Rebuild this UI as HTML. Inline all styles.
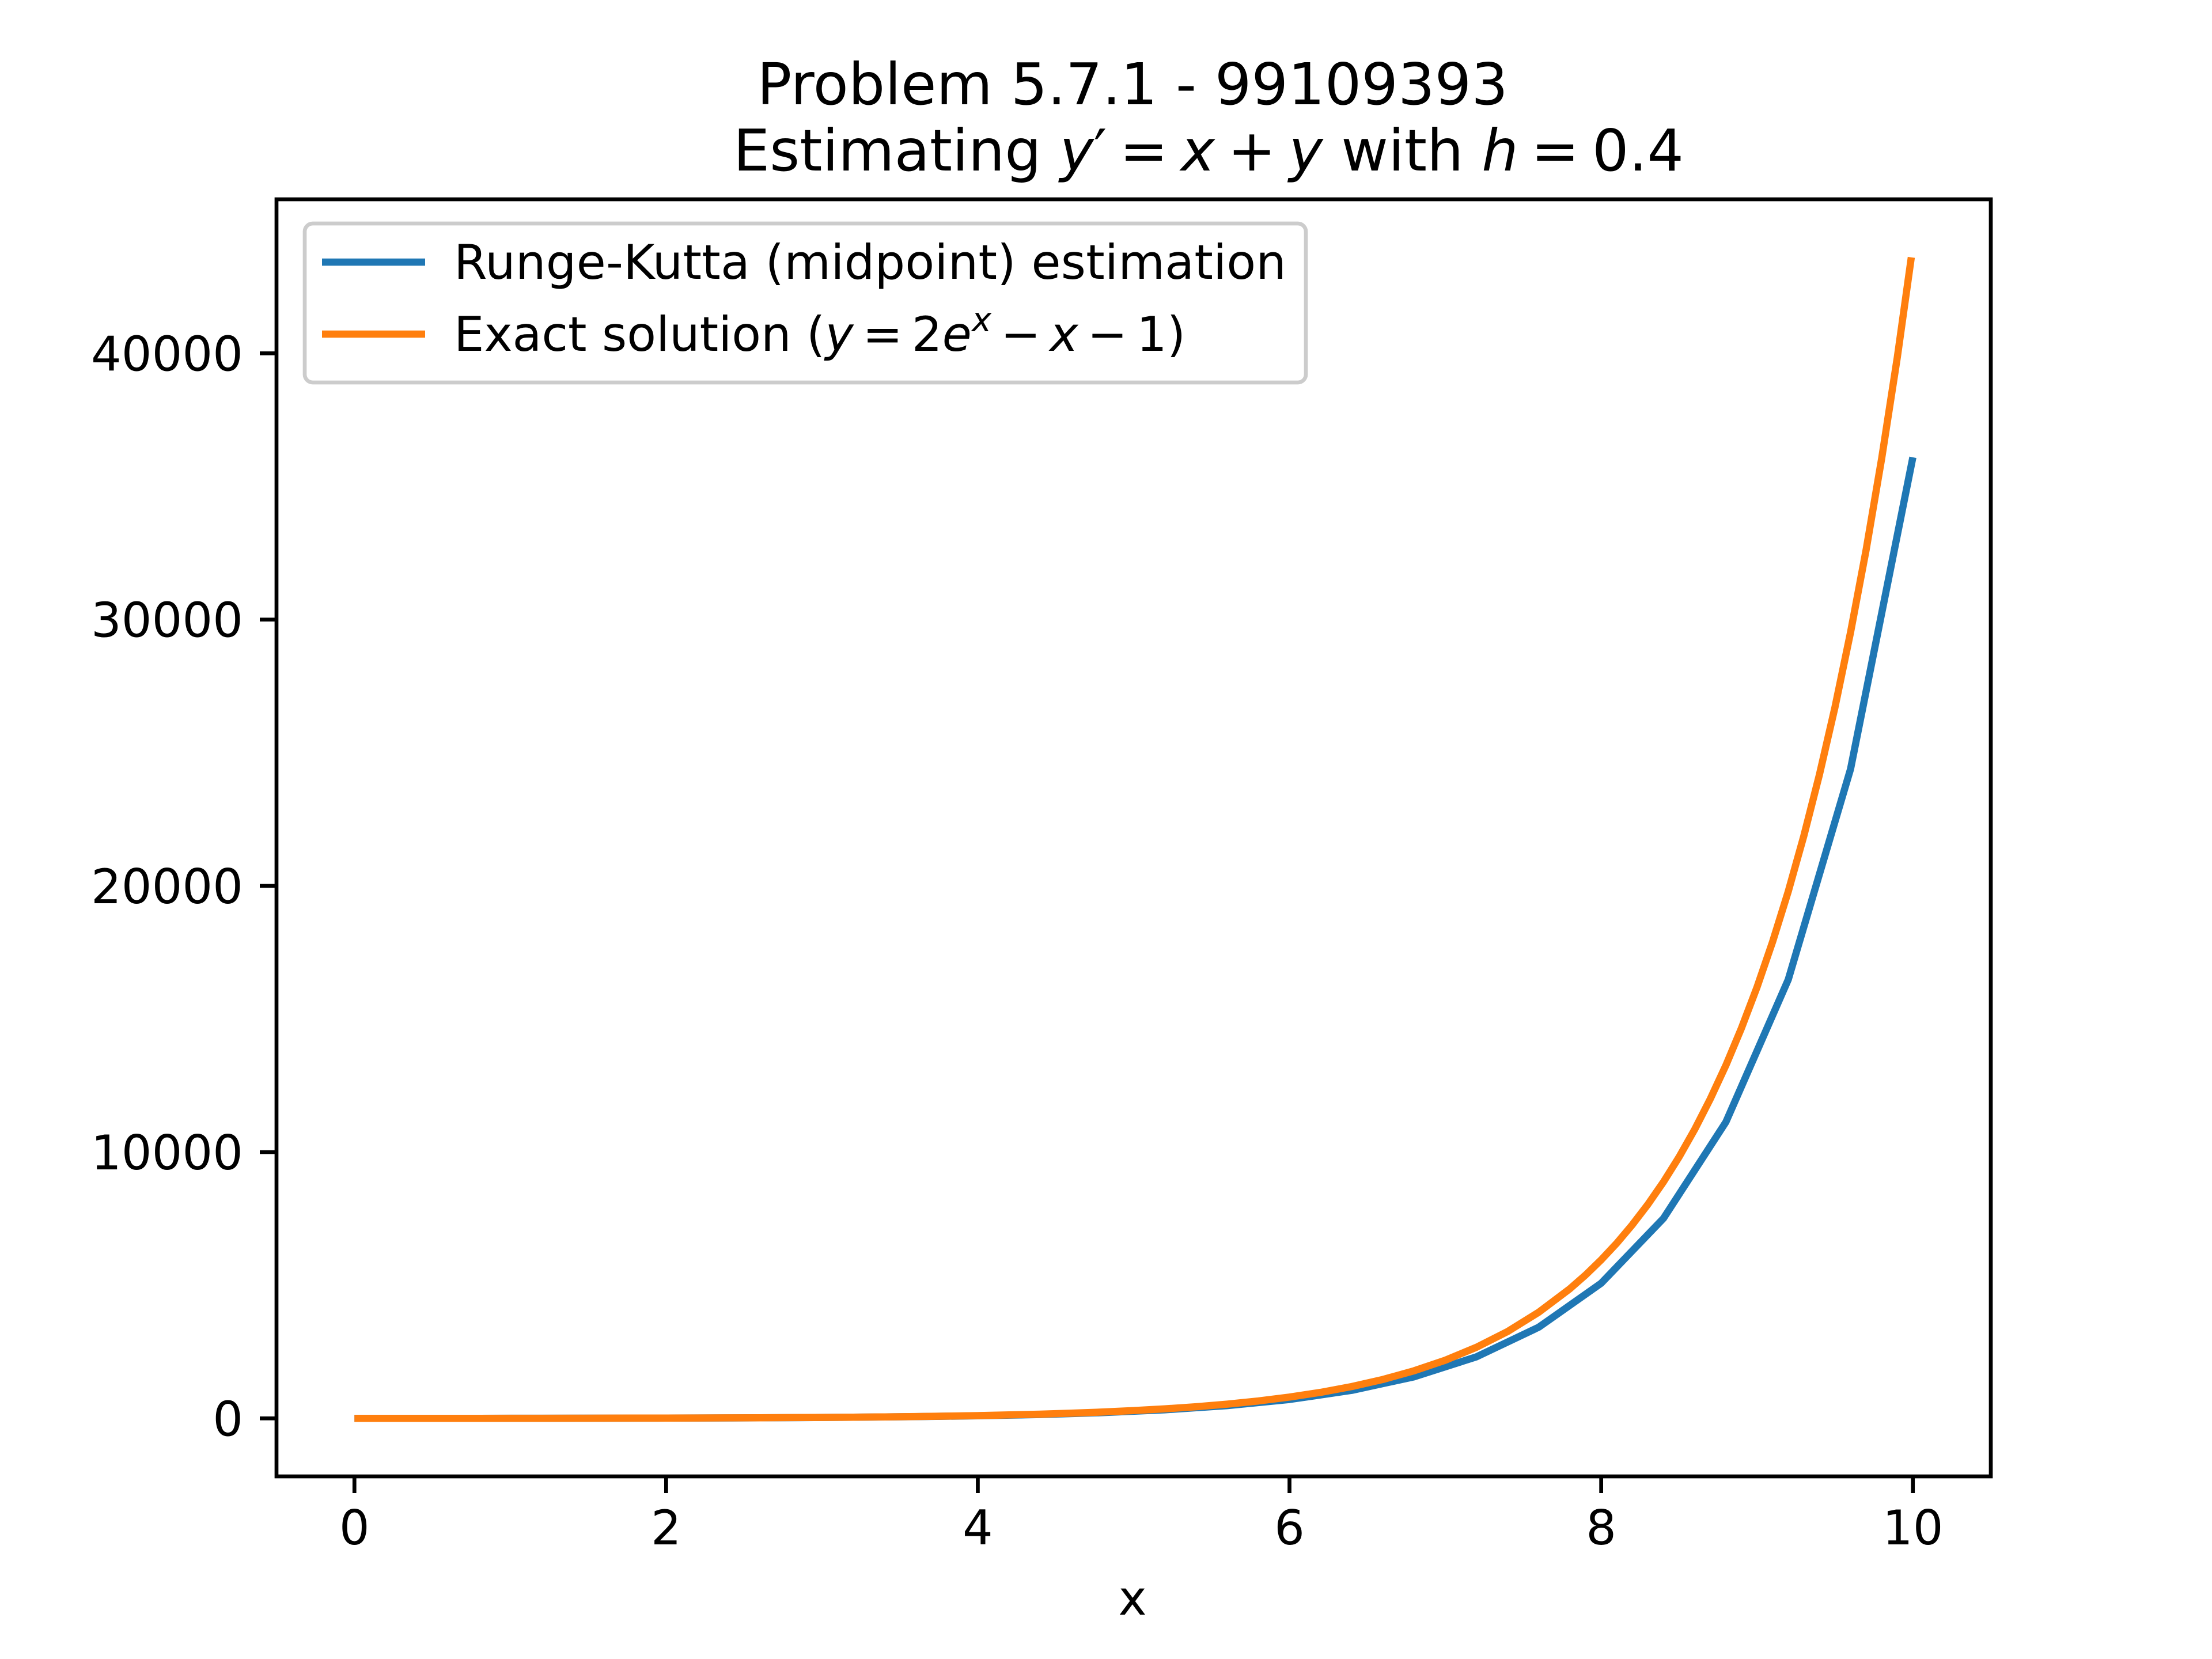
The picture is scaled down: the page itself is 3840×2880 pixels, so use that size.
<!DOCTYPE html>
<html><head><meta charset="utf-8"><style>
html,body{margin:0;padding:0;background:#fff}
svg{display:block}
text{font-family:"DejaVu Sans","Liberation Sans",sans-serif;fill:#000}
</style></head><body>
<svg id="chart" width="3840" height="2880" viewBox="0 0 3840 2880" xmlns="http://www.w3.org/2000/svg">
<rect x="0" y="0" width="3840" height="2880" fill="#fff"/>
<text x="1966" y="181" font-size="100" text-anchor="middle">Problem 5.7.1 - 99109393</text>
<text x="2098" y="296" font-size="100" text-anchor="middle">Estimating <tspan font-style="italic">y</tspan>′<tspan font-size="70"> </tspan>=<tspan font-size="70"> </tspan><tspan font-style="italic">x</tspan><tspan font-size="70"> </tspan>+<tspan font-size="70"> </tspan><tspan font-style="italic">y</tspan> with <tspan font-style="italic">h</tspan><tspan font-size="70"> </tspan>=<tspan font-size="70"> </tspan>0.4</text>
<g id="plot"></g>
<g id="axes"></g>
<text x="1966" y="2803" font-size="83" text-anchor="middle">x</text>
<g>
<rect x="529" y="388" width="1738" height="276" rx="14" fill="#fff" fill-opacity="0.8" stroke="#cccccc" stroke-width="6.7"/>
<line x1="559" y1="455" x2="738" y2="455" stroke="#1f77b4" stroke-width="12.5"/>
<text x="788" y="484" font-size="83" textLength="1445">Runge-Kutta (midpoint) estimation</text>
<line x1="559" y1="580" x2="738" y2="580" stroke="#ff7f0e" stroke-width="12.5"/>
<text x="788" y="609" font-size="83">Exact solution (<tspan font-style="italic">y</tspan><tspan font-size="50"> </tspan>=<tspan font-size="50"> </tspan>2<tspan font-style="italic">e</tspan><tspan font-style="italic" font-size="58" dy="-34">x</tspan><tspan dy="34"><tspan font-size="50"> </tspan>−<tspan font-size="50"> </tspan></tspan><tspan font-style="italic">x</tspan><tspan font-size="50"> </tspan>−<tspan font-size="50"> </tspan>1)</text>
</g>
</svg>
<script>
const rkX = [0,0.4,0.8,1.2,1.6,2.0,2.4,2.8,3.2,3.6,4.0,4.4,4.8,5.2,5.6,6.0,6.4,6.8,7.2,7.6,8.0,8.4,8.8,9.2,9.6,10.0];
const rkY = [1,1.56,2.5808,4.283584,6.995704,11.201642,17.61843,27.30728,41.8388,63.5374,95.8434,143.848,215.087,320.713,477.231,709.070,1052.38,1560.67,2313.14,3426.98,5075.66,7515.90,11127.64,16473.21,24384.85,36094.27];
const exX = [0,0.2,0.4,0.6,0.8,1.0,1.2,1.4,1.6,1.8,2.0,2.2,2.4,2.6,2.8,3.0,3.2,3.4,3.6,3.8,4.0,4.2,4.4,4.6,4.8,5.0,5.2,5.4,5.6,5.8,6.0,6.2,6.4,6.6,6.8,7.0,7.2,7.4,7.6,7.8,7.9,8.0,8.1,8.2,8.3,8.4,8.5,8.6,8.7,8.8,8.9,9.0,9.1,9.2,9.3,9.4,9.5,9.6,9.7,9.8,9.9,9.99];
const exY = [1,1.242806,1.58365,2.04424,2.65108,3.43656,4.44023,5.7104,7.30606,9.29929,11.77811,14.85003,18.64635,23.32748,29.08929,36.17107,44.86506,55.5282,68.59646,84.60236,104.1963,128.1727,157.5017,193.3686,237.2208,290.8263,356.3444,436.4128,534.2528,653.7992,799.8576,978.298,1196.29,1462.59,1787.89,2185.27,2670.66,3263.57,3987.79,4872.40,5385.66,5952.92,6579.84,7272.70,8038.44,8884.73,9820.04,10853.72,11996.12,13258.69,14654.05,16196.17,17900.49,19784.06,21865.74,24166.36,26708.96,29518.96,32624.52,36056.68,39849.84,43603.6];
const xTicks = [0,2,4,6,8,10];
const yTicks = [0,10000,20000,30000,40000];
const yTickLabels = ["0","10000","20000","30000","40000"];

const NS = "http://www.w3.org/2000/svg";
const L = 480, R = 3456, T = 346, B = 2563;
const allX = rkX.concat(exX), allY = rkY.concat(exY);
const xmin0 = Math.min(...allX), xmax0 = Math.max(...allX);
const ymin0 = Math.min(...allY), ymax0 = Math.max(...allY);
const xpad = (xmax0 - xmin0) * 0.05, ypad = (ymax0 - ymin0) * 0.05;
const xLo = xmin0 - xpad, xHi = xmax0 + xpad, yLo = ymin0 - ypad, yHi = ymax0 + ypad;
function sx(v){ return L + (v - xLo) / (xHi - xLo) * (R - L); }
function sy(v){ return B - (v - yLo) / (yHi - yLo) * (B - T); }

const plot = document.getElementById('plot');
const axes = document.getElementById('axes');
function mk(tag, attrs){ const e = document.createElementNS(NS, tag); for (const k in attrs) e.setAttribute(k, attrs[k]); return e; }

function line(xs, ys, color, name){
  const p = mk('polyline', {points: xs.map((x,i)=>sx(x).toFixed(1)+','+sy(ys[i]).toFixed(1)).join(' '), fill:'none', stroke:color, 'stroke-width':12.5, 'stroke-linejoin':'round', 'stroke-linecap':'butt'});
  
  
  plot.appendChild(p);
}
line(rkX, rkY, '#1f77b4', 'series-runge-kutta');
line(exX, exY, '#ff7f0e', 'series-exact');

const frame = mk('rect', {x:L, y:T, width:R-L, height:B-T, fill:'none', stroke:'#000', 'stroke-width':6.7});


axes.appendChild(frame);

xTicks.forEach(v => {
  const x = sx(v);
  const t = mk('line', {x1:x, y1:B, x2:x, y2:B+29, stroke:'#000', 'stroke-width':6.7});
  
  
  axes.appendChild(t);
  const lb = mk('text', {x:x, y:B+118, 'font-size':83, 'text-anchor':'middle'});
  lb.textContent = String(v);
  
  
  axes.appendChild(lb);
});
yTicks.forEach((v,i) => {
  const y = sy(v);
  const t = mk('line', {x1:L-29, y1:y, x2:L, y2:y, stroke:'#000', 'stroke-width':6.7});
  
  
  axes.appendChild(t);
  const lb = mk('text', {x:L-58, y:y+30, 'font-size':83, 'text-anchor':'end'});
  lb.textContent = yTickLabels[i];
  
  
  axes.appendChild(lb);
});
</script>
</body></html>
